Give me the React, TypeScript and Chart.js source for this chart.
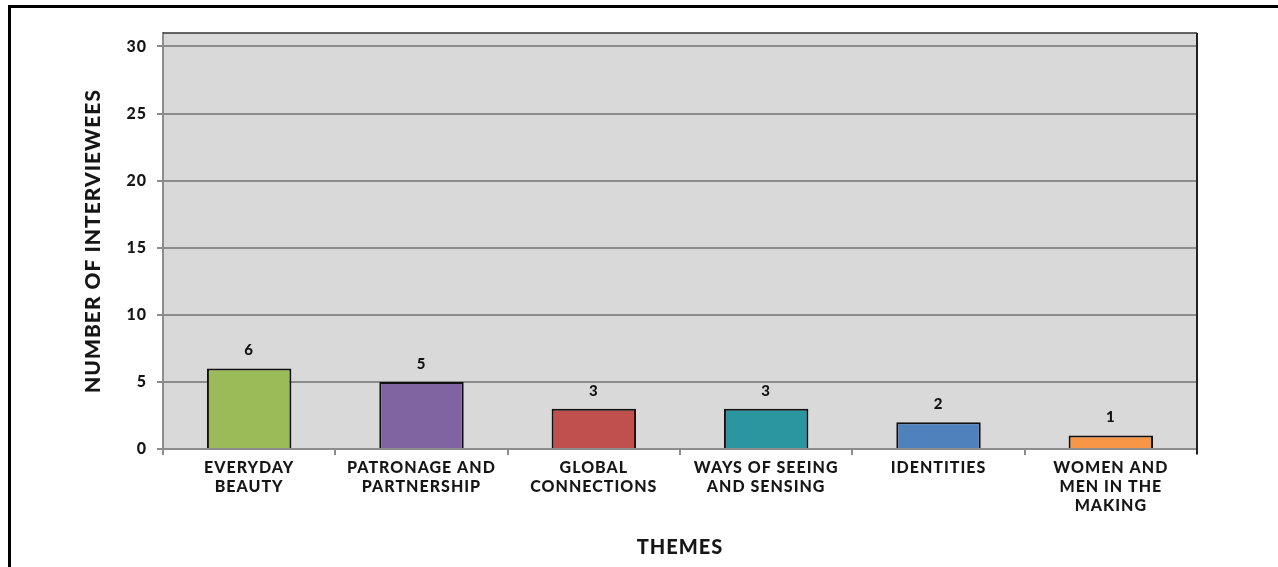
import React, { useEffect, useRef } from "react";
import { Chart, registerables } from "chart.js";

Chart.register(...registerables);

const categories: string[][] = [
  ["EVERYDAY", "BEAUTY"],
  ["PATRONAGE AND", "PARTNERSHIP"],
  ["GLOBAL", "CONNECTIONS"],
  ["WAYS OF SEEING", "AND SENSING"],
  ["IDENTITIES"],
  ["WOMEN AND", "MEN IN THE", "MAKING"],
];
const values: number[] = [6, 5, 3, 3, 2, 1];
const barColors: string[] = ["#9bbb59", "#8064a2", "#c0504d", "#2b96a0", "#4f81bd", "#f79646"];
const yTickValues: number[] = [0, 5, 10, 15, 20, 25, 30];
const yTitle = "NUMBER OF INTERVIEWEES";
const xTitle = "THEMES";

const FONT = "Lato";
const WEIGHT = "900";

const setSpacing = (chart: any) => {
  try {
    chart.ctx.letterSpacing = "1px";
  } catch (e) {}
};

const plotPlugin = {
  id: "plotDecor",
  beforeInit: setSpacing,
  beforeUpdate: setSpacing,
  beforeDraw(chart: any) {
    setSpacing(chart);
    const { ctx, chartArea: a } = chart;
    ctx.save();
    ctx.fillStyle = "#d9d9d9";
    ctx.fillRect(a.left, a.top, a.right - a.left, a.bottom - a.top);
    ctx.restore();
  },
  afterDraw(chart: any) {
    const { ctx, chartArea: a } = chart;
    ctx.save();
    ctx.strokeStyle = "#333";
    ctx.lineWidth = 1.5;
    ctx.beginPath();
    ctx.moveTo(a.left, a.top);
    ctx.lineTo(a.right, a.top);
    ctx.stroke();
    ctx.strokeStyle = "#222";
    ctx.lineWidth = 2;
    ctx.beginPath();
    ctx.moveTo(a.right, a.top);
    ctx.lineTo(a.right, a.bottom + 5);
    ctx.stroke();
    ctx.restore();
  },
  afterDatasetsDraw(chart: any) {
    const { ctx } = chart;
    const meta = chart.getDatasetMeta(0);
    ctx.save();
    ctx.font = `${WEIGHT} 15px ${FONT}`;
    ctx.fillStyle = "#111";
    ctx.textAlign = "center";
    ctx.textBaseline = "middle";
    meta.data.forEach((bar: any, i: number) => {
      ctx.fillText(String(values[i]), bar.x, bar.y - 18);
    });
    ctx.restore();
  },
};

export default function App() {
  const ref = useRef<HTMLCanvasElement | null>(null);
  useEffect(() => {
    if (!ref.current) return;
    const chart = new Chart(ref.current, {
      type: "bar",
      data: {
        labels: categories,
        datasets: [
          {
            data: values,
            backgroundColor: barColors,
            borderColor: "#111",
            borderWidth: 2,
            barPercentage: 0.49,
            categoryPercentage: 1,
          },
        ],
      },
      options: {
        animation: false,
        responsive: false,
        devicePixelRatio: 1,
        layout: { padding: { left: 10, right: 81, top: 33, bottom: 0 } },
        plugins: { legend: { display: false }, tooltip: { enabled: false } },
        scales: {
          x: {
            grid: { drawOnChartArea: false, drawTicks: true, tickLength: 6, color: "#8c8c8c", lineWidth: 2, offset: true },
            border: { color: "#8c8c8c", width: 2 },
            ticks: {
              font: { family: FONT, weight: WEIGHT, size: 16, lineHeight: 1.2 },
              color: "#161616",
              padding: 3,
              maxRotation: 0,
              autoSkip: false,
            },
            title: {
              display: true,
              text: xTitle,
              color: "#161616",
              font: { family: FONT, weight: WEIGHT, size: 20, lineHeight: 1.2 },
              padding: { top: 0, bottom: 7 },
            },
            afterFit: (s: any) => {
              s.height = 118;
            },
          },
          y: {
            min: 0,
            max: 31,
            afterBuildTicks: (s: any) => {
              s.ticks = yTickValues.map((v) => ({ value: v }));
            },
            grid: { color: "#8c8c8c", lineWidth: 2, tickLength: 6 },
            border: { color: "#8c8c8c", width: 2 },
            ticks: {
              font: { family: FONT, weight: WEIGHT, size: 16 },
              color: "#161616",
              padding: 10,
            },
            title: {
              display: true,
              text: yTitle,
              color: "#161616",
              font: { family: FONT, weight: WEIGHT, size: 21, lineHeight: 1.2 },
              padding: { top: 71, bottom: 0 },
            },
            afterFit: (s: any) => {
              s.width = 153;
            },
          },
        },
      },
      plugins: [plotPlugin],
    });
    return () => chart.destroy();
  }, []);

  return (
    <div style={{ position: "fixed", left: 0, top: 0, width: 1278, height: 567, background: "#fff", overflow: "hidden" }}>
      <canvas ref={ref} width={1278} height={567} style={{ position: "absolute", left: 0, top: 0 }} />
      <div
        style={{
          position: "absolute",
          left: 8,
          top: 5,
          width: 1300,
          height: 600,
          borderTop: "3px solid #000",
          borderLeft: "3px solid #000",
          pointerEvents: "none",
        }}
      />
    </div>
  );
}
